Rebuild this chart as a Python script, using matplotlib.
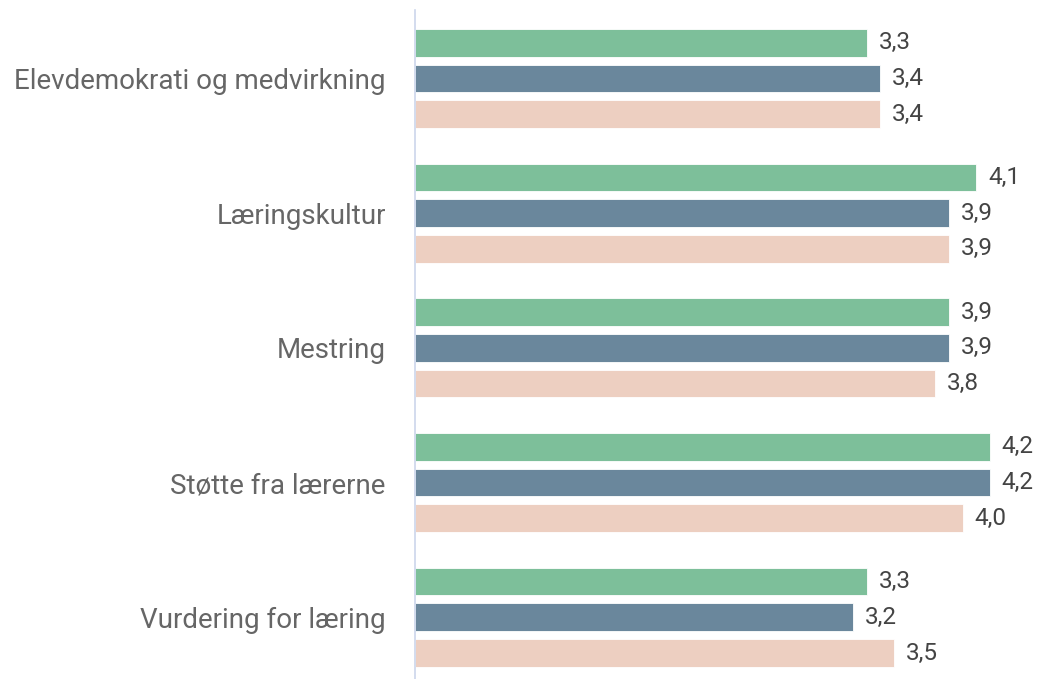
import numpy as np
import matplotlib.pyplot as plt

plt.rcParams['font.family'] = ['Roboto', 'DejaVu Sans']

categories = ['Elevdemokrati og medvirkning', 'Læringskultur', 'Mestring',
              'Støtte fra lærerne', 'Vurdering for læring']
series_a = [3.3, 4.1, 3.9, 4.2, 3.3]
series_b = [3.4, 3.9, 3.9, 4.2, 3.2]
series_c = [3.4, 3.9, 3.8, 4.0, 3.5]
colors = ['#7dbf9a', '#6a879c', '#edcfc1']

fig = plt.figure(figsize=(10.42, 6.79), dpi=100)
ax = fig.add_axes([415 / 1042, 0, 1 - 415 / 1042, 1 - 10 / 679])

y = np.arange(len(categories))
offset = 0.265
height = 0.205
for vals, off, col in zip([series_a, series_b, series_c], [-offset, 0, offset], colors):
    bars = ax.barh(y + off, vals, height=height, color=col, edgecolor='white', linewidth=0.6)
    for b, v in zip(bars, vals):
        ax.text(v + 0.085, b.get_y() + b.get_height() / 2, f'{v:.1f}'.replace('.', ','),
                va='center', ha='left', fontsize=17.5, color='#444444', clip_on=False)

ax.set_xlim(0, 627 / 136.9)
ax.set_ylim(4.458, -0.508)
ax.set_yticks(y)
ax.set_yticklabels(categories, fontsize=20, color='#666666')
ax.tick_params(axis='y', length=0, pad=21)
ax.set_xticks([])
for s in ['top', 'right', 'bottom']:
    ax.spines[s].set_visible(False)
ax.spines['left'].set_color('#ccd6eb')
ax.spines['left'].set_linewidth(1.2)

plt.savefig('out.png', dpi=100)
